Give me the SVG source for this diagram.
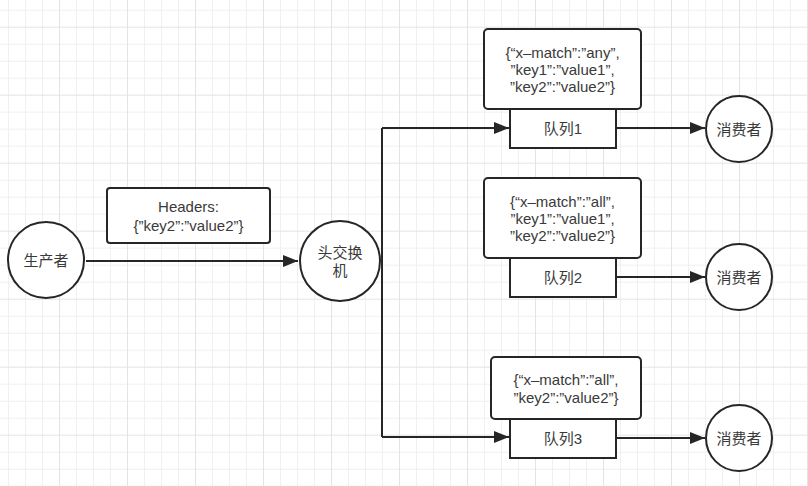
<svg xmlns="http://www.w3.org/2000/svg" width="808" height="486" viewBox="0 0 808 486">
<style>
.box{fill:#fff;stroke:#262626;stroke-width:2}
.t{font-family:"Liberation Sans","Noto Sans CJK SC",sans-serif;font-size:15px;fill:#3a3a3a;text-anchor:middle;dominant-baseline:central}
.edge{fill:none;stroke:#262626;stroke-width:2}
</style>
<defs>
<pattern id="grid" patternUnits="userSpaceOnUse" x="59" y="26.7" width="68" height="68">
<rect x="0" y="0" width="68" height="68" fill="#fff"/>
<g fill="#f0f0f0">
<rect x="17" y="0" width="1" height="68"/><rect x="34" y="0" width="1" height="68"/><rect x="51" y="0" width="1" height="68"/>
<rect x="0" y="17" width="68" height="1"/><rect x="0" y="34" width="68" height="1"/><rect x="0" y="51" width="68" height="1"/>
</g>
<g fill="#e4e4e4">
<rect x="0" y="0" width="1" height="68"/><rect x="0" y="0" width="68" height="1"/>
</g>
</pattern>
<marker id="arr" markerUnits="userSpaceOnUse" markerWidth="16" markerHeight="14" refX="15" refY="7" orient="auto">
<path d="M0,1 L15,7 L0,13 Z" fill="#262626"/>
</marker>
</defs>
<rect width="808" height="486" fill="url(#grid)"/>

<g id="connectors">
<path class="edge" d="M86,261 H298" marker-end="url(#arr)"/>
<path class="edge" d="M382,128 V437"/>
<path class="edge" d="M382,128 H509" marker-end="url(#arr)"/>
<path class="edge" d="M382,437 H509" marker-end="url(#arr)"/>
<path class="edge" d="M616,128 H705" marker-end="url(#arr)"/>
<path class="edge" d="M616,277 H705" marker-end="url(#arr)"/>
<path class="edge" d="M616,438 H705" marker-end="url(#arr)"/>
</g>

<g id="producer">
<circle class="box" cx="46" cy="260" r="38"/>
<text class="t" x="46" y="260">生产者</text>
</g>

<g id="headers">
<rect class="box" x="107" y="188" width="163" height="55" rx="3"/>
<text class="t" x="188.5" y="206">Headers:</text>
<text class="t" x="188.5" y="225">{”key2”:”value2”}</text>
</g>

<g id="exchange">
<circle class="box" cx="340" cy="261" r="40"/>
<text class="t" x="340" y="252">头交换</text>
<text class="t" x="340" y="270">机</text>
</g>

<g id="rule1">
<rect class="box" x="484" y="29" width="157" height="80" rx="4"/>
<text class="t" x="562.5" y="52">{“x–match”:”any”,</text>
<text class="t" x="562.5" y="69">”key1”:”value1”,</text>
<text class="t" x="562.5" y="86">”key2”:”value2”}</text>
</g>
<g id="queue1">
<rect class="box" x="510" y="109" width="106" height="39"/>
<text class="t" x="563" y="128">队列1</text>
</g>

<g id="rule2">
<rect class="box" x="484" y="178" width="157" height="80" rx="4"/>
<text class="t" x="562.5" y="201">{“x–match”:”all”,</text>
<text class="t" x="562.5" y="218">”key1”:”value1”,</text>
<text class="t" x="562.5" y="235">”key2”:”value2”}</text>
</g>
<g id="queue2">
<rect class="box" x="510" y="258" width="106" height="39"/>
<text class="t" x="563" y="277">队列2</text>
</g>

<g id="rule3">
<rect class="box" x="491" y="357" width="150" height="62" rx="4"/>
<text class="t" x="566" y="379">{“x–match”:”all”,</text>
<text class="t" x="566" y="397">”key2”:”value2”}</text>
</g>
<g id="queue3">
<rect class="box" x="510" y="419" width="106" height="39"/>
<text class="t" x="563" y="438">队列3</text>
</g>

<g id="consumer1">
<circle class="box" cx="739" cy="129" r="33"/>
<text class="t" x="739" y="129">消费者</text>
</g>
<g id="consumer2">
<circle class="box" cx="739" cy="277" r="33"/>
<text class="t" x="739" y="277">消费者</text>
</g>
<g id="consumer3">
<circle class="box" cx="739" cy="438" r="33"/>
<text class="t" x="739" y="438">消费者</text>
</g>
</svg>
